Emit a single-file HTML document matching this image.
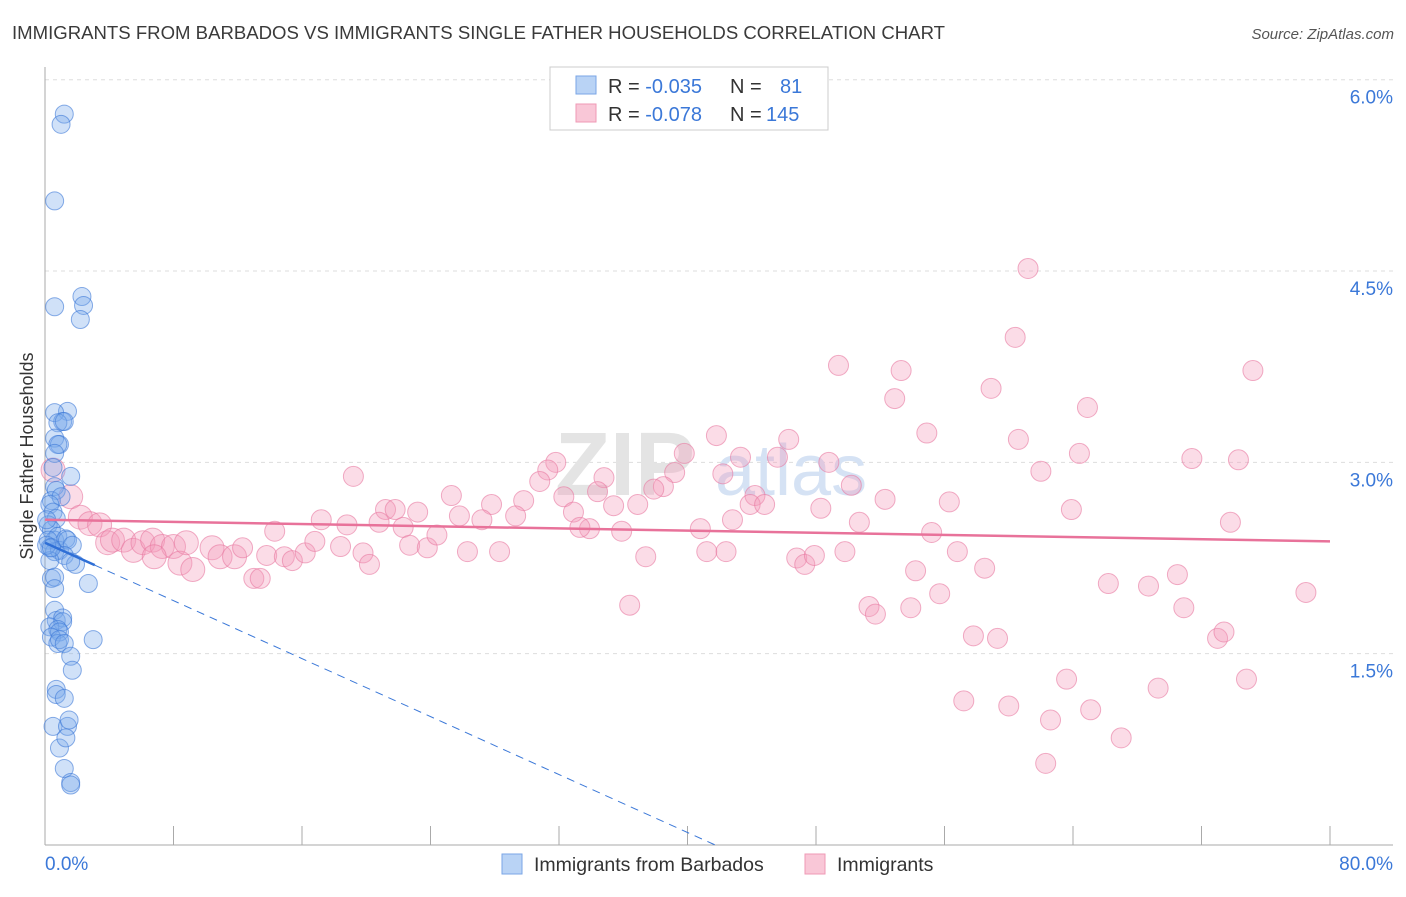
<!DOCTYPE html>
<html><head><meta charset="utf-8">
<style>
body{margin:0;background:#fff;font-family:"Liberation Sans",sans-serif;}
svg text{font-family:"Liberation Sans",sans-serif;}
</style></head>
<body>
<svg id="chart" width="1406" height="892" viewBox="0 0 1406 892" xmlns="http://www.w3.org/2000/svg">
<text x="12" y="39" font-size="18" fill="#3a3a3a" textLength="933" lengthAdjust="spacingAndGlyphs">IMMIGRANTS FROM BARBADOS VS IMMIGRANTS SINGLE FATHER HOUSEHOLDS CORRELATION CHART</text>
<text x="1394" y="39" font-size="15" fill="#555" text-anchor="end" font-style="italic">Source: ZipAtlas.com</text>
<g id="grid"></g>
<text x="555" y="495" font-size="90" fill="#e4e4e4" font-weight="bold" font-family="Liberation Serif">ZIP</text>
<text x="715" y="495" font-size="72" fill="#d5e2f4">atlas</text>
<g id="axes"></g>
<g id="pink"></g>
<g id="blue"></g>
<g id="trend"></g>
<text x="33" y="456" font-size="18" fill="#333" text-anchor="middle" transform="rotate(-90 33 456)">Single Father Households</text>
<g>
<rect x="550" y="67" width="278" height="63" fill="#fff" stroke="#ccc"/>
<rect x="576" y="76" width="20" height="18" fill="#b9d3f5" stroke="#7aa6e6"/>
<rect x="576" y="104" width="20" height="18" fill="#f9c7d7" stroke="#ef9ab5"/>
<text x="608" y="93" font-size="20" fill="#333">R = <tspan fill="#3b78d8">-0.035</tspan><tspan x="730">N = </tspan><tspan x="780" fill="#3b78d8">81</tspan></text>
<text x="608" y="121" font-size="20" fill="#333">R = <tspan fill="#3b78d8">-0.078</tspan><tspan x="730">N = </tspan><tspan x="766" fill="#3b78d8">145</tspan></text>
</g>
<g>
<rect x="502" y="854" width="20" height="20" fill="#b9d3f5" stroke="#7aa6e6"/>
<text x="534" y="871" font-size="19.5" fill="#333">Immigrants from Barbados</text>
<rect x="805" y="854" width="20" height="20" fill="#f9c7d7" stroke="#ef9ab5"/>
<text x="837" y="871" font-size="19.5" fill="#333">Immigrants</text>
</g>
</svg>
<script>
const xTicks=[0,8,16,24,32,40,48,56,64,72,80];
const yTicks=[1.5,3.0,4.5,6.0];
const yTickLabels=["1.5%","3.0%","4.5%","6.0%"];
const xEndLabels=["0.0%","80.0%"];
const blueX=[1.2,1.0,0.6,0.6,2.3,2.4,2.2,1.4,0.6,1.1,0.8,1.2,0.6,0.9,0.8,1.6,0.6,0.5,0.6,0.7,0.4,1.0,0.3,0.5,0.7,0.2,0.4,0.6,0.8,0.2,0.3,0.6,0.9,1.3,1.4,1.7,1.2,0.3,1.9,1.6,0.4,0.6,0.6,2.7,0.6,0.7,1.1,1.1,0.3,0.8,0.9,0.4,3.0,0.8,0.9,1.2,1.6,1.7,0.7,0.7,1.2,0.5,1.4,1.5,0.9,1.3,1.2,1.6,1.6,0.1,0.1,0.4];
const blueY=[5.73,5.65,5.05,4.22,4.30,4.23,4.12,3.40,3.39,3.32,3.31,3.32,3.19,3.14,3.14,2.89,3.07,2.96,2.81,2.78,2.70,2.73,2.67,2.61,2.56,2.51,2.47,2.39,2.42,2.39,2.33,2.30,2.31,2.40,2.39,2.35,2.27,2.23,2.20,2.22,2.09,2.10,2.01,2.05,1.84,1.76,1.78,1.75,1.71,1.69,1.67,1.63,1.61,1.58,1.61,1.58,1.48,1.37,1.22,1.18,1.15,0.93,0.93,0.98,0.76,0.84,0.60,0.49,0.47,2.35,2.55,2.33];
const pinkX=[61.2,60.4,49.4,53.3,75.2,58.9,52.9,64.9,41.8,54.9,46.3,60.6,39.8,43.3,45.6,64.4,48.8,71.4,74.3,62.0,19.2,31.8,31.3,34.8,39.2,42.2,50.2,30.8,38.5,37.9,34.4,25.3,32.3,52.3,44.2,56.3,27.8,29.8,43.9,44.8,35.4,36.9,21.2,21.8,23.2,48.3,63.9,25.8,42.8,27.2,29.3,32.9,50.7,73.8,20.8,22.3,33.9,33.3,35.9,40.8,55.2,17.2,18.8,14.3,0.5,1.6,2.2,2.8,3.4,3.9,4.2,4.9,5.5,6.1,6.7,7.3,8.0,8.4,8.8,9.2,6.8,10.4,10.9,11.8,12.3,13.0,13.4,13.8,14.9,15.4,16.2,16.8,18.4,19.8,20.2,22.7,23.8,24.4,26.3,28.3,37.4,41.2,42.4,46.8,47.3,47.9,49.8,56.8,58.5,54.2,36.4,51.3,51.7,53.9,55.7,66.2,68.7,70.5,70.9,78.5,57.8,59.3,73.0,73.4,57.2,60.0,62.6,63.6,65.1,69.3,74.8,67.0,62.3];
const pinkY=[4.52,3.98,3.76,3.72,3.72,3.58,3.50,3.43,3.21,3.23,3.18,3.18,3.07,3.04,3.04,3.07,3.00,3.03,3.02,2.93,2.89,3.00,2.94,2.88,2.92,2.91,2.82,2.85,2.81,2.79,2.77,2.74,2.73,2.71,2.74,2.69,2.67,2.70,2.67,2.67,2.66,2.67,2.63,2.63,2.61,2.64,2.63,2.58,2.55,2.55,2.58,2.61,2.53,2.53,2.53,2.49,2.48,2.49,2.46,2.48,2.45,2.55,2.51,2.46,2.94,2.73,2.57,2.52,2.51,2.37,2.39,2.39,2.31,2.37,2.39,2.34,2.34,2.21,2.37,2.16,2.26,2.33,2.26,2.26,2.33,2.09,2.09,2.27,2.26,2.23,2.29,2.38,2.34,2.29,2.20,2.35,2.33,2.43,2.30,2.30,2.26,2.30,2.30,2.25,2.20,2.27,2.30,2.30,2.17,2.15,1.88,1.87,1.81,1.86,1.97,2.05,2.03,2.12,1.86,1.98,1.64,1.62,1.62,1.67,1.13,1.09,0.98,1.30,1.06,1.23,1.30,0.84,0.64];
const pinkTrend=[2.55,2.38];
const blueTrend=[2.37,-0.0568];
const blueSolidEnd=3.1;
const NS="http://www.w3.org/2000/svg";
const sx=v=>45+v*(1285/80);
const sy=v=>845-v*127.55;
function mk(tag,parent,attrs){const e=document.createElementNS(NS,tag);for(const k in attrs)e.setAttribute(k,attrs[k]);parent.appendChild(e);return e;}
const grid=document.getElementById('grid'),axes=document.getElementById('axes');
yTicks.forEach((t,i)=>{
 const l=mk('line',grid,{x1:45,x2:1393,y1:sy(t),y2:sy(t),stroke:'#ddd','stroke-dasharray':'4,4'});
 
 
 const tx=mk('text',axes,{x:1393,y:sy(t)+24,'font-size':19,fill:'#3b78d8','text-anchor':'end'});
 tx.textContent=yTickLabels[i];
 
 
});
const ax=mk('line',axes,{x1:45,x2:45,y1:67,y2:845,stroke:'#aaa'});


const bx=mk('line',axes,{x1:45,x2:1393,y1:845,y2:845,stroke:'#aaa'});


xTicks.forEach((t,i)=>{ if(i===0)return;
 const l=mk('line',axes,{x1:sx(t),x2:sx(t),y1:826,y2:845,stroke:'#aaa'});
 
 
});
[[0,'start',45],[80,'end',1393]].forEach((d,i)=>{
 const tx=mk('text',axes,{x:d[2],y:870,'font-size':19,fill:'#3b78d8','text-anchor':d[1]});
 tx.textContent=xEndLabels[i];
 
 
});
const pg=document.getElementById('pink');
pinkX.forEach((x,i)=>{
 const c=mk('circle',pg,{cx:sx(x),cy:sy(pinkY[i]),r:x<12?12:10,fill:'rgba(244,154,185,0.35)',stroke:'rgba(232,120,160,0.6)','stroke-width':1});
 
 
});
const bg=document.getElementById('blue');
blueX.forEach((x,i)=>{
 const c=mk('circle',bg,{cx:sx(x),cy:sy(blueY[i]),r:9,fill:'rgba(120,170,235,0.35)',stroke:'rgba(60,120,215,0.6)','stroke-width':1});
 
 
});
const tg=document.getElementById('trend');
const pt=mk('line',tg,{x1:sx(0),y1:sy(pinkTrend[0]),x2:sx(80),y2:sy(pinkTrend[1]),stroke:'#e8729a','stroke-width':2.5});


const bzero=-blueTrend[0]/blueTrend[1];
const bd=mk('line',tg,{x1:sx(blueSolidEnd),y1:sy(blueTrend[0]+blueTrend[1]*blueSolidEnd),x2:sx(bzero),y2:sy(0),stroke:'#3b78d8','stroke-width':1,'stroke-dasharray':'8,6'});


const bs=mk('line',tg,{x1:sx(0),y1:sy(blueTrend[0]),x2:sx(blueSolidEnd),y2:sy(blueTrend[0]+blueTrend[1]*blueSolidEnd),stroke:'#2f6fd6','stroke-width':2.5});


</script>
</body></html>
